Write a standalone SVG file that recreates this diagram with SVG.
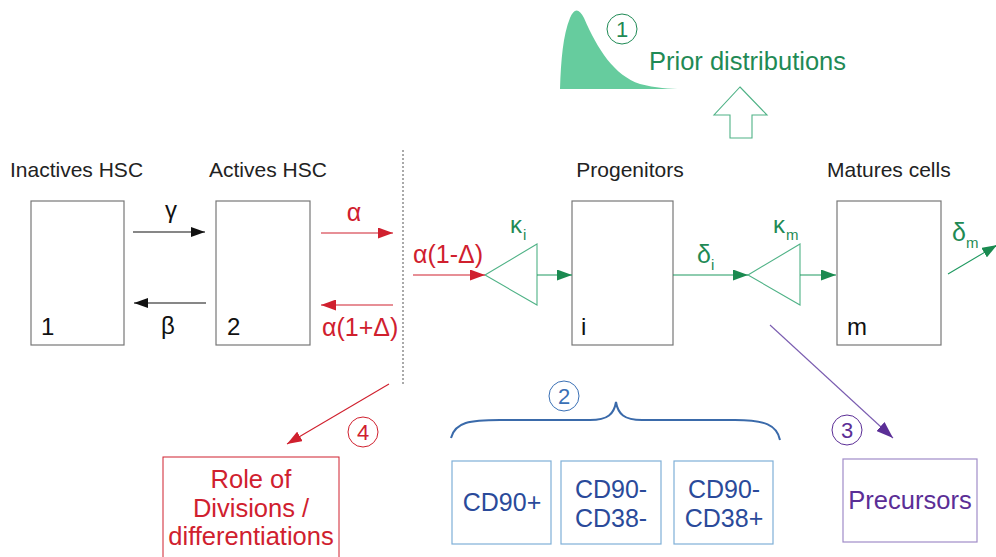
<svg xmlns="http://www.w3.org/2000/svg" width="996" height="557" viewBox="0 0 996 557">
<defs>
<style>
text{font-family:"Liberation Sans",Arial,sans-serif}
.lbl{font-size:21px;fill:#222}
.num{font-size:24px;fill:#111}
.box{fill:#fff;stroke:#777;stroke-width:1.2}
.blk{stroke:#111;stroke-width:1.1;fill:none}
.red{stroke:#d0202e;stroke-width:1.1;fill:none}
.grn{stroke:#1f9960;stroke-width:1.1;fill:none}
.tri{fill:#fff;stroke:#4fb286;stroke-width:1.1}
.rt{fill:#d0202e}
.gt{fill:#1f8a55}
.bt{fill:#2a4a9a;font-size:25px}
.pt{fill:#5b2e96}
</style>
<marker id="ab" markerWidth="14" markerHeight="10" refX="14" refY="5" orient="auto" markerUnits="userSpaceOnUse"><path d="M0,0 L14,5 L0,10 z" fill="#111"/></marker>
<marker id="ar" markerWidth="15" markerHeight="11" refX="15" refY="5.5" orient="auto" markerUnits="userSpaceOnUse"><path d="M0,0 L15,5.5 L0,11 z" fill="#d0202e"/></marker>
<marker id="ag" markerWidth="15" markerHeight="11" refX="15" refY="5.5" orient="auto" markerUnits="userSpaceOnUse"><path d="M0,0 L15,5.5 L0,11 z" fill="#1a8a50"/></marker>
<marker id="ap" markerWidth="17" markerHeight="12" refX="17" refY="6" orient="auto" markerUnits="userSpaceOnUse"><path d="M0,0 L17,6 L0,12 z" fill="#5b2e96"/></marker>
</defs>

<!-- Prior distributions -->
<g id="prior">
<path d="M560,89 C561,60 563,35 570,18 C574,8 579,8 584,18 C598,50 614,75 640,84 C655,88 670,89 682,89 Z" fill="#66cc9e"/>
<circle cx="622" cy="29" r="15" fill="none" stroke="#1f8a55" stroke-width="1"/>
<text x="622" y="37" text-anchor="middle" class="gt" font-size="22">1</text>
<text x="649" y="70" class="gt" font-size="25.5">Prior distributions</text>
<path d="M740,87 L767,115 L752,115 L752,138 L730,138 L730,115 L714,115 Z" fill="#fff" stroke="#4fb286" stroke-width="1.1"/>
</g>

<!-- headings -->
<text x="10" y="177" class="lbl">Inactives HSC</text>
<text x="209" y="177" class="lbl">Actives HSC</text>
<text x="630" y="177" class="lbl" text-anchor="middle">Progenitors</text>
<text x="827" y="177" class="lbl">Matures cells</text>

<g id="n1"><rect x="31" y="201" width="93" height="144" class="box"/><text x="41" y="335" class="num">1</text></g>
<g id="n2"><rect x="216" y="201" width="94" height="144" class="box"/><text x="227" y="335" class="num">2</text></g>
<g id="ni"><rect x="572" y="201" width="101" height="144" class="box"/><text x="581" y="335" class="num">i</text></g>
<g id="nm"><rect x="837" y="201" width="104" height="144" class="box"/><text x="847" y="335" class="num">m</text></g>

<g id="ki"><path d="M485,275 L537,244 L537,305 Z" class="tri"/><text x="510" y="233" class="gt" font-size="24">κ</text><text x="523" y="240" class="gt" font-size="15">i</text></g>
<g id="km"><path d="M748,275 L800,244 L800,305 Z" class="tri"/><text x="773" y="233" class="gt" font-size="24">κ</text><text x="786" y="240" class="gt" font-size="15">m</text></g>

<g id="connectors">
<line x1="133" y1="232" x2="205" y2="232" class="blk" marker-end="url(#ab)"/>
<line x1="206" y1="303" x2="134" y2="303" class="blk" marker-end="url(#ab)"/>
<line x1="321" y1="233" x2="393" y2="233" class="red" marker-end="url(#ar)"/>
<line x1="393" y1="305" x2="321" y2="305" class="red" marker-end="url(#ar)"/>
<line x1="403" y1="150" x2="403" y2="386" stroke="#555" stroke-width="1" stroke-dasharray="2,2"/>
<line x1="413" y1="275" x2="485" y2="275" class="red" marker-end="url(#ar)"/>
<line x1="537" y1="275" x2="572" y2="275" class="grn" marker-end="url(#ag)"/>
<line x1="673" y1="275" x2="748" y2="275" class="grn" marker-end="url(#ag)"/>
<line x1="800" y1="275" x2="836" y2="275" class="grn" marker-end="url(#ag)"/>
<line x1="948" y1="274" x2="997" y2="245" class="grn" marker-end="url(#ag)"/>
<line x1="389" y1="384" x2="287" y2="444" class="red" marker-end="url(#ar)"/>
<line x1="770" y1="325" x2="893" y2="438" stroke="#7a5cb0" stroke-width="1.1" marker-end="url(#ap)"/>
</g>

<!-- connector labels -->
<text x="171" y="218" class="num" text-anchor="middle">γ</text>
<text x="168" y="334" class="num" text-anchor="middle">β</text>
<text x="354" y="221" class="rt" font-size="25" text-anchor="middle">α</text>
<text x="322" y="336" class="rt" font-size="25">α(1+Δ)</text>
<text x="413" y="263" class="rt" font-size="25">α(1-Δ)</text>
<text x="697" y="263" class="gt" font-size="25">δ</text><text x="711" y="270" class="gt" font-size="15">i</text>
<text x="952" y="241" class="gt" font-size="25">δ</text><text x="966" y="248" class="gt" font-size="15">m</text>

<!-- 4 -->
<g id="role">
<circle cx="363" cy="432" r="15" fill="none" stroke="#d0202e" stroke-width="1"/>
<text x="363" y="440" text-anchor="middle" class="rt" font-size="22">4</text>
<rect x="163" y="457" width="176" height="110" fill="#fff" stroke="#d0202e" stroke-width="1"/>
<text x="251" y="488" text-anchor="middle" class="rt" font-size="25.5">Role of</text>
<text x="251" y="517" text-anchor="middle" class="rt" font-size="25.5">Divisions /</text>
<text x="251" y="545" text-anchor="middle" class="rt" font-size="25.5">differentiations</text>
</g>

<!-- 2 -->
<g id="markers">
<circle cx="564" cy="396" r="15" fill="none" stroke="#3a70b5" stroke-width="1"/>
<text x="564" y="404" text-anchor="middle" fill="#3a70b5" font-size="22">2</text>
<path d="M451,438 C455,422 470,420 500,420 L590,420 C608,420 614,414 616,402 C618,414 624,420 642,420 L735,420 C765,420 777,425 780,440" fill="none" stroke="#3a6aaa" stroke-width="2"/>
<rect x="452" y="461" width="99" height="83" fill="#fff" stroke="#7fb0d8" stroke-width="1.2"/>
<text x="502" y="511" text-anchor="middle" class="bt">CD90+</text>
<rect x="561" y="461" width="100" height="83" fill="#fff" stroke="#7fb0d8" stroke-width="1.2"/>
<text x="611" y="498" text-anchor="middle" class="bt">CD90-</text>
<text x="611" y="527" text-anchor="middle" class="bt">CD38-</text>
<rect x="674" y="461" width="99" height="83" fill="#fff" stroke="#7fb0d8" stroke-width="1.2"/>
<text x="724" y="498" text-anchor="middle" class="bt">CD90-</text>
<text x="724" y="527" text-anchor="middle" class="bt">CD38+</text>
</g>

<!-- 3 -->
<g id="precursors">
<circle cx="847" cy="430" r="15" fill="none" stroke="#5b2e96" stroke-width="1"/>
<text x="847" y="438" text-anchor="middle" class="pt" font-size="22">3</text>
<rect x="843" y="459" width="134" height="83" fill="#fff" stroke="#a08cc8" stroke-width="1.2"/>
<text x="910" y="509" text-anchor="middle" class="pt" font-size="25.5">Precursors</text>
</g>
</svg>
